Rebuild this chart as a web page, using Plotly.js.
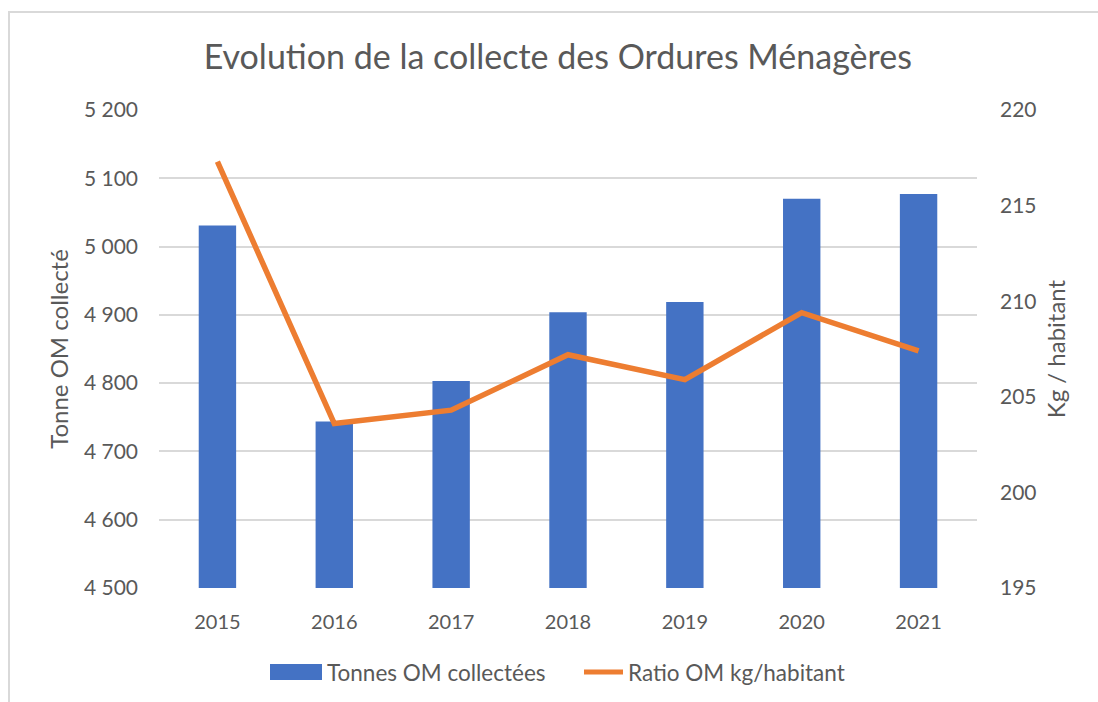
<!DOCTYPE html>
<html>
<head>
<meta charset="utf-8">
<script src="https://cdn.plot.ly/plotly-3.0.1.min.js"></script>
<style>
html,body{margin:0;padding:0;background:#fff;}
#chart{width:1098px;height:702px;position:absolute;left:0;top:0;}
#frame{position:absolute;left:8px;top:11px;width:1090px;height:691px;border-top:2px solid #d9d9d9;border-left:2px solid #d9d9d9;pointer-events:none;}
</style>
</head>
<body>
<div id="chart"></div>
<div id="frame"></div>
<script>
const years = ["2015","2016","2017","2018","2019","2020","2021"];
const tonnes = [5031, 4744, 4803, 4904, 4919, 5070, 5077];
const ratio = [217.3, 203.6, 204.3, 207.2, 205.9, 209.4, 207.4];
const leftTicks = [4500,4600,4700,4800,4900,5000,5100,5200];
const rightTicks = [195,200,205,210,215,220];
const seriesNames = ["Tonnes OM collectées", "Ratio OM kg/habitant"];
const seriesColors = ["#4472c4", "#ed7d31"];

const FONT = "Lato, 'Open Sans', sans-serif";
const GREY = "#595959";

const traces = [
  {
    type: "bar", x: years, y: tonnes, name: seriesNames[0],
    marker: {color: seriesColors[0]}, width: 0.32, yaxis: "y", showlegend: false
  },
  {
    type: "scatter", mode: "lines", x: years, y: ratio, name: seriesNames[1],
    line: {color: seriesColors[1], width: 5.5}, yaxis: "y2", showlegend: false
  }
];

// custom legend (Excel-like wide swatches), in paper coordinates
const PL = 159, PW = 818, PB = 588, PH = 478;
const px = p => (p - PL) / PW;
const py = p => (PB - p) / PH;
const legY = 672;

const shapes = [
  {type: "rect", xref: "paper", yref: "paper",
   x0: px(270), x1: px(322), y0: py(legY + 8), y1: py(legY - 8),
   fillcolor: seriesColors[0], line: {width: 0}},
  {type: "line", xref: "paper", yref: "paper",
   x0: px(584), x1: px(623), y0: py(legY), y1: py(legY),
   line: {color: seriesColors[1], width: 5}}
];
const annotations = [
  {xref: "paper", yref: "paper", x: px(325), y: py(legY), xanchor: "left", yanchor: "middle",
   text: seriesNames[0], showarrow: false, font: {size: 22.5, color: GREY}},
  {xref: "paper", yref: "paper", x: px(626), y: py(legY), xanchor: "left", yanchor: "middle",
   text: seriesNames[1], showarrow: false, font: {size: 22.5, color: GREY}}
];

const layout = {
  width: 1098, height: 702,
  margin: {l: 159, r: 121, t: 110, b: 114},
  paper_bgcolor: "#fff", plot_bgcolor: "#fff",
  font: {family: FONT, color: GREY, size: 21},
  title: {
    text: "Evolution de la collecte des Ordures Ménagères",
    font: {family: FONT, size: 34, color: GREY},
    x: 0.508, xanchor: "center", y: 0.918, yanchor: "middle"
  },
  xaxis: {
    type: "category", showgrid: false, zeroline: false,
    showline: false, ticks: "", tickfont: {size: 20, color: GREY},
    ticklabelstandoff: 20
  },
  yaxis: {
    range: [4500, 5200], tickvals: leftTicks,
    ticktext: leftTicks.map(v => String(v).replace(/(\d)(\d{3})$/, "$1 $2")),
    showgrid: true, gridcolor: "#d9d9d9", gridwidth: 2, zeroline: false,
    showline: false, ticks: "", tickfont: {size: 21, color: GREY},
    ticklabelstandoff: 20,
    title: {text: "Tonne OM collecté", font: {size: 24, color: GREY}, standoff: 8}
  },
  yaxis2: {
    range: [195, 220], tickvals: rightTicks, overlaying: "y", side: "right",
    showgrid: false, zeroline: false, showline: false, ticks: "",
    tickfont: {size: 21, color: GREY}, ticklabelstandoff: 22,
    title: {text: "Kg / habitant", font: {size: 24, color: GREY}, standoff: 12}
  },
  showlegend: false,
  shapes: shapes,
  annotations: annotations
};

Plotly.newPlot("chart", traces, layout, {displayModeBar: false, staticPlot: true});
</script>
</body>
</html>
